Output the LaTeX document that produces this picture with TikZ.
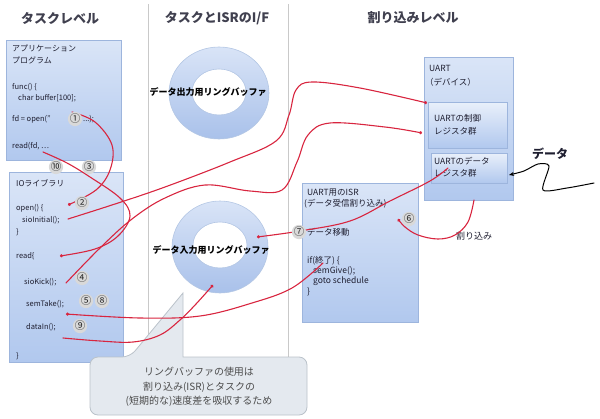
\documentclass[tikz,border=0pt]{standalone}
\usepackage{fontspec}
\setmainfont{Noto Sans CJK JP}
\usetikzlibrary{arrows.meta}
\definecolor{redln}{HTML}{D8253F}
\definecolor{boxedge}{HTML}{9DB5DD}
\definecolor{boxtop}{HTML}{DAE5F7}
\definecolor{boxbot}{HTML}{B1C8EE}
\definecolor{ringtop}{HTML}{D9E4F7}
\definecolor{ringbot}{HTML}{A9C1EA}
\definecolor{ringedge}{HTML}{B4C7E4}
\definecolor{colline}{HTML}{C9C9C9}
\definecolor{calfill}{HTML}{E4E9EF}
\definecolor{caledge}{HTML}{BAC2CA}
\definecolor{txt}{HTML}{1E1E30}
\begin{document}
\begin{tikzpicture}[x=1pt,y=-1pt,
  bluebox/.style={draw=boxedge, line width=0.8pt, top color=boxtop, bottom color=boxbot},
  regbox/.style={draw=boxedge, line width=0.8pt, top color=boxtop!60!white, bottom color=boxbot},
  ringsh/.style={draw=ringedge, line width=0.6pt, top color=ringtop, bottom color=ringbot, even odd rule},
  head/.style={inner sep=0pt, text=txt!85, font=\fontsize{13}{13}\selectfont\bfseries},
  code/.style={anchor=west, inner sep=0pt, text=txt, font=\fontsize{7.5}{8}\selectfont},
  jp/.style={anchor=west, inner sep=0pt, text=txt, font=\fontsize{8}{9}\selectfont},
  isr/.style={anchor=west, inner sep=0pt, text=txt, font=\fontsize{8.5}{9}\selectfont},
  ringlbl/.style={inner sep=0pt, text=black, font=\fontsize{9}{9}\selectfont\bfseries},
  num/.style={circle, fill=gray!30, inner sep=0pt, minimum size=9.5pt, text=black!85, font=\fontsize{10.5}{10.5}\selectfont},
  conn/.style={draw=redln, line width=1.1pt, line cap=round, -{Circle[length=3pt]}},
  calltxt/.style={align=center, inner sep=0pt, text=black!70, font=\fontsize{10}{14.5}\selectfont}
]
\useasboundingbox (0,0) rectangle (600,418);

% column separators
\draw[colline, line width=0.8pt] (148,4) -- (148,357);
\draw[colline, line width=0.8pt] (288,4) -- (288,357);

% headers
\node[head] (h1) at (60,18) {タスクレベル};
\node[head] (h2) at (217,18) {タスクとISRのI/F};
\node[head] (h3) at (413,18) {割り込みレベル};

% boxes
\path[bluebox] (6,40) rectangle (121,160);
\path[bluebox] (9,172) rectangle (123,362);
\path[bluebox] (302,183) rectangle (418,322);
\path[bluebox] (424,57) rectangle (513,200);
\path[regbox] (428,102) rectangle (507,148);
\path[regbox] (431,153) rectangle (507,183);

% ring buffers
\path[ringsh] (219,93) ellipse [x radius=50, y radius=46] (219,92) ellipse [x radius=27, y radius=23];
\path[ringsh] (220,247) ellipse [x radius=48, y radius=46] (220,245) ellipse [x radius=27, y radius=23];
\node[ringlbl] (rb1) at (208,92) {データ出力用リングバッファ};
\node[ringlbl] (rb2) at (211,250) {データ入力用リングバッファ};

% callout
\draw[draw=caledge, fill=calfill, line width=0.8pt]
  (90,386) [rounded corners=8pt] |- (130,357) [sharp corners] -- (183,293) -- (183,357)
  [rounded corners=8pt] -| (307,386) |- (90,415) -- cycle;
\node[calltxt] (cl) at (199,387) {リングバッファの使用は\\割り込み(ISR)とタスクの\\(短期的な)速度差を吸収するため};

% application box texts
\node[jp] (a1) at (12,48) {アプリケーション};
\node[jp] (a2) at (12,60) {プログラム};
\node[code] (a3) at (12,87) {func() \{};
\node[code] (a4) at (18,98) {char buffer[100];};
\node[code] (a5) at (12,119) {fd = open("};
\node[code] (a5b) at (83,119) {...);};
\node[code] (a6) at (12,146) {read(fd, …};

% IO library texts
\node[jp] (b1) at (16,183) {IOライブラリ};
\node[code] (b2) at (16,208) {open() \{};
\node[code] (b3) at (22,220) {sioInitial();};
\node[code] (b4) at (16,232) {\}};
\node[code] (b5) at (16,256) {read\{};
\node[code] (b6) at (24,282) {sioKick();};
\node[code] (b7) at (26,304) {semTake();};
\node[code] (b8) at (26,327) {dataIn();};
\node[code] (b9) at (16,356) {\}};

% ISR texts
\node[isr] (i1) at (307,193) {UART用のISR};
\node[isr] (i2) at (304,204) {(データ受信割り込み)};
\node[isr] (i3) at (307,232) {データ移動};
\node[isr] (i4) at (307,261) {if(終了) \{};
\node[isr] (i5) at (313,271) {semGive();};
\node[isr] (i6) at (313,281) {goto schedule};
\node[isr] (i7) at (307,292) {\}};

% UART texts
\node[isr] (u1) at (429,68) {UART};
\node[isr] (u2) at (425,82) {（デバイス）};
\node[isr] (u3) at (434,118) {UARTの制御};
\node[isr] (u4) at (434,131) {レジスタ群};
\node[isr] (u5) at (434,161) {UARTのデータ};
\node[isr] (u6) at (434,173) {レジスタ群};

\node[inner sep=0pt, text=txt, font=\fontsize{12}{12}\selectfont\bfseries] (dl) at (550,154) {データ};
\node[inner sep=0pt, text=txt, font=\fontsize{9}{9}\selectfont] (il) at (474,236) {割り込み};

% connector end points
\coordinate (p1s) at (72,112);  \coordinate (p1e) at (68,205);
\coordinate (p3s) at (43,152);  \coordinate (p3e) at (60,256);
\coordinate (p2s) at (68,219);  \coordinate (cre1) at (427,103);
\coordinate (p4s) at (66,283);  \coordinate (cre2) at (422,133);
\coordinate (dre) at (448,168); \coordinate (rin1) at (257,237);
\coordinate (ubot) at (474,200); \coordinate (isrin) at (398,219);
\coordinate (sg) at (323,263);  \coordinate (st) at (66,314);
\coordinate (di) at (63,338);   \coordinate (rin2) at (213,285);
\coordinate (ext) at (594,183); \coordinate (dregin) at (509,175);

% red connectors
\draw[conn] plot[smooth, tension=0.6] coordinates {(p1s) (95,122) (112,145) (110,170) (96,190) (p1e)};
\draw[conn] plot[smooth, tension=0.6] coordinates {(p3s) (67,163) (90,177) (120,198) (130,216) (118,236) (95,249) (p3e)};
\draw[conn] plot[smooth, tension=0.6] coordinates {(p2s) (115,204) (165,187) (230,162) (276,141) (289,115) (296,90) (312,82) (360,88) (cre1)};
\draw[conn] plot[smooth, tension=0.6] coordinates {(p4s) (100,248) (132,219) (165,198) (205,185) (250,191) (282,190) (297,162) (308,135) (330,123) (385,127) (cre2)};
\draw[conn] plot[smooth, tension=0.6] coordinates {(dre) (430,181) (390,201) (350,221) (300,231) (rin1)};
\draw[conn] plot[smooth, tension=0.6] coordinates {(ubot) (468,222) (455,235) (438,239) (418,235) (405,227) (isrin)};
\draw[conn] plot[smooth, tension=0.6] coordinates {(sg) (292,288) (252,303) (200,316) (140,318) (st)};
\draw[conn] plot[smooth, tension=0.6] coordinates {(di) (100,341) (133,342) (160,335) (180,320) (196,304) (rin2)};

% external data line
\draw[black, line width=1pt, line cap=round, -{Stealth[length=5pt,width=4pt]}]
  plot[smooth, tension=0.45] coordinates {(ext) (567,188) (543,190) (549,166) (538,164) (524,171) (dregin)};

% circled numbers
\node[num] (n1) at (75,119) {①};
\node[num] (n2) at (82,203) {②};
\node[num] (n3) at (89,167) {③};
\node[num] (n4) at (82,278) {④};
\node[num] (n5) at (86,301) {⑤};
\node[num] (n6) at (409,219) {⑥};
\node[num] (n7) at (299,232) {⑦};
\node[num] (n8) at (102,301) {⑧};
\node[num] (n9) at (80,326) {⑨};
\node[num] (n10) at (56,167) {⑩};
\end{tikzpicture}
\end{document}
